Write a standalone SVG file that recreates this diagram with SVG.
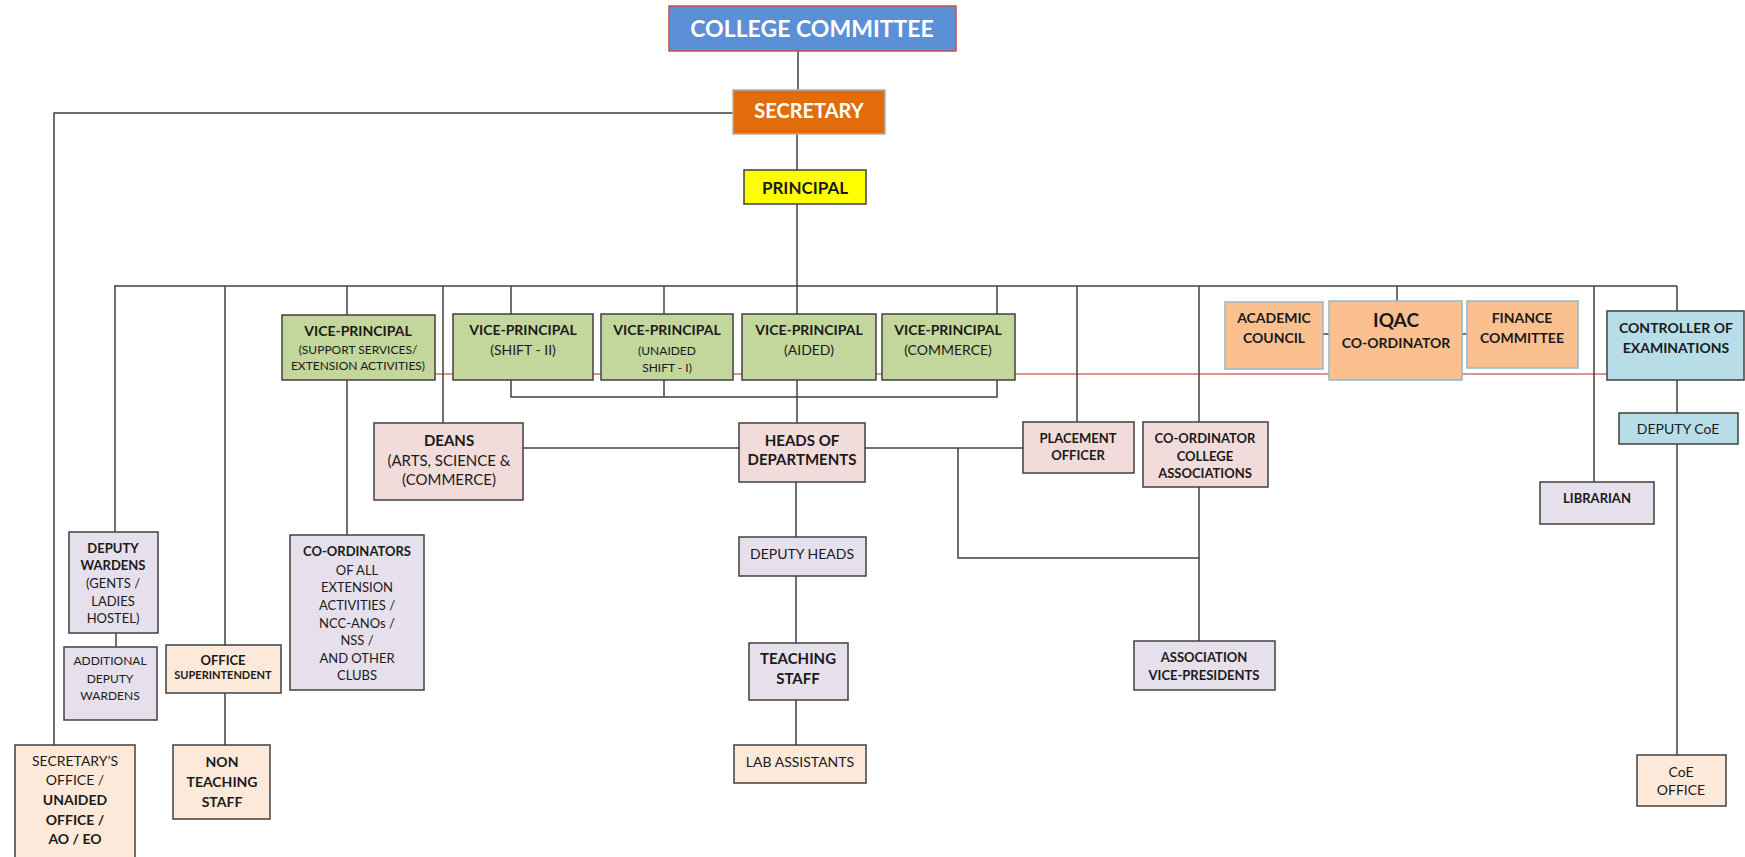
<svg xmlns="http://www.w3.org/2000/svg" width="1745" height="857" viewBox="0 0 1745 857">
<style>
text{font-family:Lato,"Liberation Sans",sans-serif;fill:#1a1a1a;text-anchor:middle}
.b{font-weight:bold}
.w{fill:#fff}
rect{stroke:#404040;stroke-width:1.5}
rect.bg{fill:#fff;stroke:none}
.c path{fill:none;stroke:#404040;stroke-width:1.5}
.c .red{stroke:#c0282a;stroke-width:1.2}
.blue{fill:#5b8fd6;stroke:#c0504d}
.org{fill:#e36c0a;stroke:#b0b0b0}
.yel{fill:#ffff00}
.grn{fill:#c3d69b}
.pnk{fill:#f2dcdb}
.lav{fill:#e5e0ec}
.pch{fill:#fde9d9}
.tan{fill:#fac090;stroke:#93b8c8}
.lbl{fill:#b7dee8}
</style>
<rect class="bg" width="1745" height="857"/>
<g class="c">
<path class="red" d="M435 374H1607"/>
<path d="M798 51V90"/>
<path d="M733 113H54V745"/>
<path d="M797 134V170"/>
<path d="M797 204V423"/>
<path d="M114 286H1677"/>
<path d="M115 286V532"/>
<path d="M225 286V645"/>
<path d="M347 286V535"/>
<path d="M443 286V423"/>
<path d="M511 286V314"/>
<path d="M664 286V314"/>
<path d="M997 286V314"/>
<path d="M1077 286V422"/>
<path d="M1199 286V641"/>
<path d="M1397 286V301"/>
<path d="M1594 286V482"/>
<path d="M1677 286V755"/>
<path d="M511 380V397H997V380M664 380V397"/>
<path d="M523 448H739M865 448H1023"/>
<path d="M958 448V558H1199"/>
<path d="M796 482V745"/>
<path d="M116 633V647"/>
<path d="M225 693V745"/>
<path d="M1323 334H1329M1462 334H1467"/>
</g>
<g id="college-committee"><rect class="blue" x="669" y="6" width="287" height="45"/><text class="b w" x="812" y="37" font-size="23">COLLEGE COMMITTEE</text></g>
<g id="secretary"><rect class="org" x="733" y="90" width="152" height="44"/><text class="b w" x="809" y="118" font-size="20">SECRETARY</text></g>
<g id="principal"><rect class="yel" x="744" y="170" width="122" height="34"/><text class="b" x="805" y="194" font-size="17">PRINCIPAL</text></g>
<g id="vp-support"><rect class="grn" x="282" y="315" width="153" height="65"/><text class="b" x="358" y="336" font-size="14">VICE-PRINCIPAL</text><text x="358" y="354" font-size="12">(SUPPORT SERVICES/</text><text x="358" y="370" font-size="12">EXTENSION ACTIVITIES)</text></g>
<g id="vp-shift2"><rect class="grn" x="453" y="314" width="140" height="66"/><text class="b" x="523" y="335" font-size="14">VICE-PRINCIPAL</text><text x="523" y="355" font-size="14">(SHIFT - II)</text></g>
<g id="vp-unaided"><rect class="grn" x="601" y="314" width="132" height="66"/><text class="b" x="667" y="335" font-size="14">VICE-PRINCIPAL</text><text x="667" y="355" font-size="12">(UNAIDED</text><text x="667" y="372" font-size="12">SHIFT - I)</text></g>
<g id="vp-aided"><rect class="grn" x="742" y="314" width="134" height="66"/><text class="b" x="809" y="335" font-size="14">VICE-PRINCIPAL</text><text x="809" y="355" font-size="14">(AIDED)</text></g>
<g id="vp-commerce"><rect class="grn" x="882" y="314" width="133" height="66"/><text class="b" x="948" y="335" font-size="14">VICE-PRINCIPAL</text><text x="948" y="355" font-size="14">(COMMERCE)</text></g>
<g id="academic-council"><rect class="tan" x="1225" y="302" width="98" height="67"/><text class="b" x="1274" y="323" font-size="14">ACADEMIC</text><text class="b" x="1274" y="343" font-size="14">COUNCIL</text></g>
<g id="iqac"><rect class="tan" x="1329" y="301" width="133" height="79"/><text class="b" x="1396" y="327" font-size="19">IQAC</text><text class="b" x="1396" y="348" font-size="14">CO-ORDINATOR</text></g>
<g id="finance-committee"><rect class="tan" x="1467" y="301" width="111" height="67"/><text class="b" x="1522" y="323" font-size="14">FINANCE</text><text class="b" x="1522" y="343" font-size="14">COMMITTEE</text></g>
<g id="controller"><rect class="lbl" x="1607" y="311" width="137" height="69"/><text class="b" x="1676" y="333" font-size="14">CONTROLLER OF</text><text class="b" x="1676" y="353" font-size="14">EXAMINATIONS</text></g>
<g id="deans"><rect class="pnk" x="374" y="423" width="149" height="77"/><text class="b" x="449" y="446" font-size="15">DEANS</text><text x="449" y="466" font-size="15">(ARTS, SCIENCE &amp;</text><text x="449" y="485" font-size="15">(COMMERCE)</text></g>
<g id="hods"><rect class="pnk" x="739" y="423" width="126" height="59"/><text class="b" x="802" y="446" font-size="15">HEADS OF</text><text class="b" x="802" y="465" font-size="15">DEPARTMENTS</text></g>
<g id="placement"><rect class="pnk" x="1023" y="422" width="111" height="51"/><text class="b" x="1078" y="443" font-size="13">PLACEMENT</text><text class="b" x="1078" y="460" font-size="13">OFFICER</text></g>
<g id="coord-assoc"><rect class="pnk" x="1143" y="422" width="125" height="65"/><text class="b" x="1205" y="443" font-size="13">CO-ORDINATOR</text><text class="b" x="1205" y="461" font-size="13">COLLEGE</text><text class="b" x="1205" y="478" font-size="13">ASSOCIATIONS</text></g>
<g id="deputy-coe"><rect class="lbl" x="1619" y="413" width="119" height="31"/><text x="1678" y="434" font-size="14">DEPUTY CoE</text></g>
<g id="librarian"><rect class="lav" x="1540" y="482" width="114" height="42"/><text class="b" x="1597" y="503" font-size="13">LIBRARIAN</text></g>
<g id="deputy-wardens"><rect class="lav" x="69" y="532" width="89" height="101"/><text class="b" x="113" y="553" font-size="13">DEPUTY</text><text class="b" x="113" y="570" font-size="13">WARDENS</text><text x="113" y="588" font-size="13">(GENTS /</text><text x="113" y="606" font-size="13">LADIES</text><text x="113" y="623" font-size="13">HOSTEL)</text></g>
<g id="additional-deputy-wardens"><rect class="lav" x="64" y="647" width="93" height="73"/><text x="110" y="665" font-size="12">ADDITIONAL</text><text x="110" y="683" font-size="12">DEPUTY</text><text x="110" y="700" font-size="12">WARDENS</text></g>
<g id="coordinators"><rect class="lav" x="290" y="535" width="134" height="155"/><text class="b" x="357" y="556" font-size="13">CO-ORDINATORS</text><text x="357" y="575" font-size="13">OF ALL</text><text x="357" y="592" font-size="13">EXTENSION</text><text x="357" y="610" font-size="13">ACTIVITIES  /</text><text x="357" y="628" font-size="13">NCC-ANOs /</text><text x="357" y="645" font-size="13">NSS /</text><text x="357" y="663" font-size="13">AND OTHER</text><text x="357" y="680" font-size="13">CLUBS</text></g>
<g id="deputy-heads"><rect class="lav" x="739" y="537" width="127" height="39"/><text x="802" y="559" font-size="14">DEPUTY HEADS</text></g>
<g id="office-superintendent"><rect class="pch" x="166" y="645" width="115" height="48"/><text class="b" x="223" y="665" font-size="13">OFFICE</text><text class="b" x="223" y="679" font-size="11">SUPERINTENDENT</text></g>
<g id="teaching-staff"><rect class="lav" x="749" y="643" width="99" height="57"/><text class="b" x="798" y="664" font-size="15">TEACHING</text><text class="b" x="798" y="684" font-size="15">STAFF</text></g>
<g id="association-vps"><rect class="lav" x="1134" y="641" width="141" height="49"/><text class="b" x="1204" y="662" font-size="13">ASSOCIATION</text><text class="b" x="1204" y="680" font-size="13">VICE-PRESIDENTS</text></g>
<g id="secretarys-office"><rect class="pch" x="15" y="745" width="120" height="115"/><text x="75" y="766" font-size="14">SECRETARY’S</text><text x="75" y="785" font-size="14">OFFICE /</text><text class="b" x="75" y="805" font-size="14">UNAIDED</text><text class="b" x="75" y="825" font-size="14">OFFICE /</text><text class="b" x="75" y="844" font-size="14">AO / EO</text></g>
<g id="non-teaching-staff"><rect class="pch" x="173" y="745" width="97" height="74"/><text class="b" x="222" y="767" font-size="14">NON</text><text class="b" x="222" y="787" font-size="14">TEACHING</text><text class="b" x="222" y="807" font-size="14">STAFF</text></g>
<g id="lab-assistants"><rect class="pch" x="734" y="745" width="132" height="38"/><text x="800" y="767" font-size="14">LAB ASSISTANTS</text></g>
<g id="coe-office"><rect class="pch" x="1637" y="755" width="89" height="51"/><text x="1681" y="777" font-size="14">CoE</text><text x="1681" y="795" font-size="14">OFFICE</text></g>
</svg>
